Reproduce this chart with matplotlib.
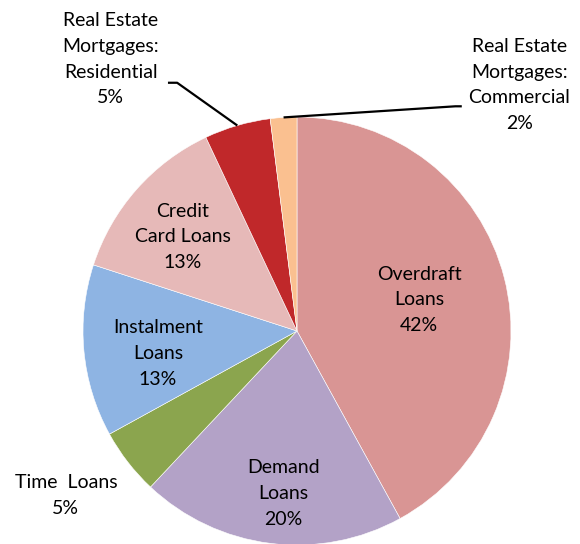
import numpy as np
import matplotlib
matplotlib.use('Agg')
import matplotlib.pyplot as plt

plt.rcParams['font.family'] = ['Lato', 'DejaVu Sans']

# loan book shares, clockwise from 12 o'clock
labels = ['Overdraft\nLoans', 'Demand\nLoans', 'Time  Loans', 'Instalment\nLoans',
          'Credit\nCard Loans', 'Real Estate\nMortgages:\nResidential',
          'Real Estate\nMortgages:\nCommercial']
shares = [42, 20, 5, 13, 13, 5, 2]
colors = ['#D99594', '#B3A2C7', '#8BA54E', '#8EB4E3', '#E6B9B8', '#C0282A', '#FAC090']

# label centres (pie radius = 1, centre at origin)
label_xy = [(0.57, 0.145), (-0.065, -0.76), (-1.08, -0.77), (-0.65, -0.105),
            (-0.535, 0.44), (-0.87, 1.27), (1.04, 1.15)]

fig = plt.figure(figsize=(5.8, 5.44), dpi=100)
ax = fig.add_axes([0, 0, 1, 1])
r_px = 214.0
cx, cy = 297.0, 331.0
wedges, _ = ax.pie(shares, colors=colors, startangle=90, counterclock=False,
                   radius=1, wedgeprops=dict(linewidth=0.4, edgecolor='white'))
ax.set_xlim(-cx / r_px, (580 - cx) / r_px)
ax.set_ylim(-(544 - cy) / r_px, cy / r_px)
ax.set_aspect('equal')

for lab, val, (x, y) in zip(labels, shares, label_xy):
    ax.text(x, y, f'{lab}\n{val}%', ha='center', va='center', fontsize=14,
            linespacing=1.62, color='black')

# leader lines for the two mortgage slices
for w, (x, y), kind in zip(wedges[5:], label_xy[5:], ['res', 'com']):
    mid = np.deg2rad((w.theta1 + w.theta2) / 2)
    px, py = np.cos(mid), np.sin(mid)
    if kind == 'res':
        start = (x + 0.267, y - 0.11)
        elbow = (x + 0.31, y - 0.11)
    else:
        start = (x - 0.27, y - 0.10)
        elbow = (x - 0.30, y - 0.10)
    ax.plot([start[0], elbow[0], px], [start[1], elbow[1], py], color='black', lw=1.6,
            solid_capstyle='butt')

fig.savefig('out.png', dpi=100)
